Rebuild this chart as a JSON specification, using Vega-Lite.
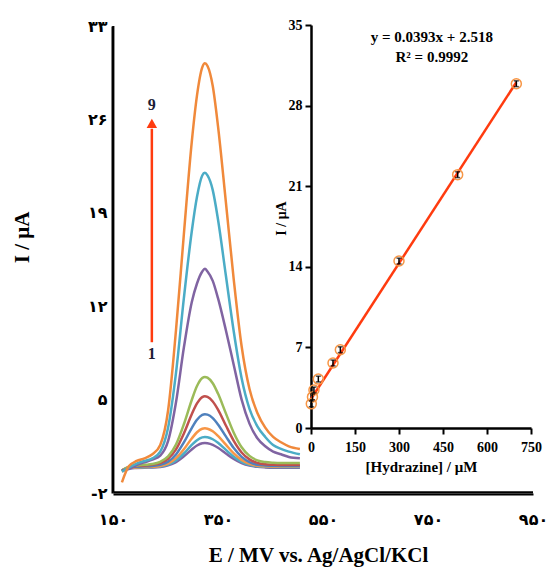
{
  "$schema": "https://vega.github.io/schema/vega-lite/v6.json",
  "width": 420,
  "height": 467,
  "autosize": {"type": "none"},
  "padding": {"left": 113, "top": 26, "right": 20, "bottom": 74},
  "background": "white",
  "config": {"view": {"stroke": null}, "axis": {"grid": false, "domain": true, "domainColor": "black", "domainWidth": 2}},
  "datasets": {
    "cv": [
      {"curve":"1","E":167,"I":-0.3},{"curve":"1","E":180,"I":-0.15},{"curve":"1","E":195,"I":-0.12},{"curve":"1","E":210,"I":-0.1},{"curve":"1","E":225,"I":-0.09},{"curve":"1","E":240,"I":-0.05},{"curve":"1","E":255,"I":0.07},{"curve":"1","E":270,"I":0.32},{"curve":"1","E":285,"I":0.75},{"curve":"1","E":300,"I":1.26},{"curve":"1","E":310,"I":1.56},{"curve":"1","E":320,"I":1.73},{"curve":"1","E":325,"I":1.75},{"curve":"1","E":330,"I":1.73},{"curve":"1","E":340,"I":1.61},{"curve":"1","E":350,"I":1.39},{"curve":"1","E":365,"I":0.96},{"curve":"1","E":380,"I":0.55},{"curve":"1","E":395,"I":0.24},{"curve":"1","E":410,"I":0.05},{"curve":"1","E":425,"I":-0.04},{"curve":"1","E":440,"I":-0.08},{"curve":"1","E":455,"I":-0.1},{"curve":"1","E":470,"I":-0.1},{"curve":"1","E":485,"I":-0.1},{"curve":"1","E":506,"I":-0.1},
      {"curve":"2","E":167,"I":-0.35},{"curve":"2","E":180,"I":-0.15},{"curve":"2","E":195,"I":-0.1},{"curve":"2","E":210,"I":-0.08},{"curve":"2","E":225,"I":-0.06},{"curve":"2","E":240,"I":-0.01},{"curve":"2","E":255,"I":0.13},{"curve":"2","E":270,"I":0.44},{"curve":"2","E":285,"I":0.96},{"curve":"2","E":300,"I":1.6},{"curve":"2","E":310,"I":1.96},{"curve":"2","E":320,"I":2.17},{"curve":"2","E":325,"I":2.2},{"curve":"2","E":330,"I":2.18},{"curve":"2","E":340,"I":2.03},{"curve":"2","E":350,"I":1.76},{"curve":"2","E":365,"I":1.23},{"curve":"2","E":380,"I":0.72},{"curve":"2","E":395,"I":0.34},{"curve":"2","E":410,"I":0.11},{"curve":"2","E":425,"I":0.0},{"curve":"2","E":440,"I":-0.03},{"curve":"2","E":455,"I":-0.05},{"curve":"2","E":470,"I":-0.05},{"curve":"2","E":485,"I":-0.05},{"curve":"2","E":506,"I":-0.05},
      {"curve":"3","E":167,"I":-0.4},{"curve":"3","E":180,"I":-0.15},{"curve":"3","E":195,"I":-0.08},{"curve":"3","E":210,"I":-0.05},{"curve":"3","E":225,"I":-0.03},{"curve":"3","E":240,"I":0.03},{"curve":"3","E":255,"I":0.21},{"curve":"3","E":270,"I":0.61},{"curve":"3","E":285,"I":1.28},{"curve":"3","E":300,"I":2.09},{"curve":"3","E":310,"I":2.55},{"curve":"3","E":320,"I":2.82},{"curve":"3","E":325,"I":2.85},{"curve":"3","E":330,"I":2.82},{"curve":"3","E":340,"I":2.63},{"curve":"3","E":350,"I":2.28},{"curve":"3","E":365,"I":1.62},{"curve":"3","E":380,"I":0.97},{"curve":"3","E":395,"I":0.48},{"curve":"3","E":410,"I":0.19},{"curve":"3","E":425,"I":0.04},{"curve":"3","E":440,"I":0.0},{"curve":"3","E":455,"I":-0.02},{"curve":"3","E":470,"I":0.0},{"curve":"3","E":485,"I":0.0},{"curve":"3","E":506,"I":0.0},
      {"curve":"4","E":167,"I":-0.35},{"curve":"4","E":180,"I":-0.1},{"curve":"4","E":195,"I":-0.03},{"curve":"4","E":210,"I":0.0},{"curve":"4","E":225,"I":0.03},{"curve":"4","E":240,"I":0.11},{"curve":"4","E":255,"I":0.35},{"curve":"4","E":270,"I":0.89},{"curve":"4","E":285,"I":1.79},{"curve":"4","E":300,"I":2.87},{"curve":"4","E":310,"I":3.49},{"curve":"4","E":320,"I":3.85},{"curve":"4","E":325,"I":3.9},{"curve":"4","E":330,"I":3.87},{"curve":"4","E":340,"I":3.61},{"curve":"4","E":350,"I":3.14},{"curve":"4","E":365,"I":2.24},{"curve":"4","E":380,"I":1.37},{"curve":"4","E":395,"I":0.71},{"curve":"4","E":410,"I":0.32},{"curve":"4","E":425,"I":0.12},{"curve":"4","E":440,"I":0.07},{"curve":"4","E":455,"I":0.05},{"curve":"4","E":470,"I":0.05},{"curve":"4","E":485,"I":0.05},{"curve":"4","E":506,"I":0.05},
      {"curve":"5","E":167,"I":-0.3},{"curve":"5","E":180,"I":-0.05},{"curve":"5","E":195,"I":0.03},{"curve":"5","E":210,"I":0.06},{"curve":"5","E":225,"I":0.14},{"curve":"5","E":240,"I":0.25},{"curve":"5","E":255,"I":0.57},{"curve":"5","E":270,"I":1.27},{"curve":"5","E":285,"I":2.46},{"curve":"5","E":300,"I":3.9},{"curve":"5","E":310,"I":4.71},{"curve":"5","E":320,"I":5.19},{"curve":"5","E":325,"I":5.25},{"curve":"5","E":330,"I":5.2},{"curve":"5","E":340,"I":4.86},{"curve":"5","E":350,"I":4.25},{"curve":"5","E":365,"I":3.06},{"curve":"5","E":380,"I":1.91},{"curve":"5","E":395,"I":1.04},{"curve":"5","E":410,"I":0.52},{"curve":"5","E":425,"I":0.26},{"curve":"5","E":440,"I":0.15},{"curve":"5","E":455,"I":0.12},{"curve":"5","E":470,"I":0.1},{"curve":"5","E":485,"I":0.1},{"curve":"5","E":506,"I":0.1},
      {"curve":"6","E":167,"I":-0.3},{"curve":"6","E":180,"I":-0.05},{"curve":"6","E":195,"I":0.05},{"curve":"6","E":210,"I":0.11},{"curve":"6","E":225,"I":0.17},{"curve":"6","E":240,"I":0.34},{"curve":"6","E":255,"I":0.74},{"curve":"6","E":270,"I":1.63},{"curve":"6","E":285,"I":3.15},{"curve":"6","E":300,"I":4.97},{"curve":"6","E":310,"I":6.02},{"curve":"6","E":320,"I":6.62},{"curve":"6","E":325,"I":6.7},{"curve":"6","E":330,"I":6.64},{"curve":"6","E":340,"I":6.23},{"curve":"6","E":350,"I":5.45},{"curve":"6","E":365,"I":3.97},{"curve":"6","E":380,"I":2.52},{"curve":"6","E":395,"I":1.43},{"curve":"6","E":410,"I":0.78},{"curve":"6","E":425,"I":0.45},{"curve":"6","E":440,"I":0.32},{"curve":"6","E":455,"I":0.27},{"curve":"6","E":470,"I":0.25},{"curve":"6","E":485,"I":0.25},{"curve":"6","E":506,"I":0.25},
      {"curve":"7","E":167,"I":-0.3},{"curve":"7","E":180,"I":-0.2},{"curve":"7","E":195,"I":0.1},{"curve":"7","E":210,"I":0.3},{"curve":"7","E":225,"I":0.5},{"curve":"7","E":240,"I":0.8},{"curve":"7","E":255,"I":1.9},{"curve":"7","E":270,"I":4.8},{"curve":"7","E":285,"I":8.9},{"curve":"7","E":300,"I":12.3},{"curve":"7","E":310,"I":13.7},{"curve":"7","E":320,"I":14.6},{"curve":"7","E":325,"I":14.8},{"curve":"7","E":330,"I":14.6},{"curve":"7","E":340,"I":13.9},{"curve":"7","E":350,"I":12.6},{"curve":"7","E":365,"I":10.2},{"curve":"7","E":380,"I":7.6},{"curve":"7","E":395,"I":5.0},{"curve":"7","E":410,"I":3.2},{"curve":"7","E":425,"I":2.1},{"curve":"7","E":440,"I":1.5},{"curve":"7","E":455,"I":1.1},{"curve":"7","E":470,"I":0.9},{"curve":"7","E":485,"I":0.7},{"curve":"7","E":506,"I":0.6},
      {"curve":"8","E":167,"I":-0.4},{"curve":"8","E":180,"I":-0.1},{"curve":"8","E":195,"I":0.2},{"curve":"8","E":210,"I":0.4},{"curve":"8","E":225,"I":0.6},{"curve":"8","E":240,"I":1.1},{"curve":"8","E":255,"I":2.9},{"curve":"8","E":270,"I":7.0},{"curve":"8","E":285,"I":12.6},{"curve":"8","E":300,"I":17.6},{"curve":"8","E":310,"I":20.2},{"curve":"8","E":320,"I":21.8},{"curve":"8","E":325,"I":22.0},{"curve":"8","E":330,"I":21.8},{"curve":"8","E":340,"I":20.7},{"curve":"8","E":350,"I":18.5},{"curve":"8","E":365,"I":14.3},{"curve":"8","E":380,"I":10.1},{"curve":"8","E":395,"I":6.6},{"curve":"8","E":410,"I":4.3},{"curve":"8","E":425,"I":3.0},{"curve":"8","E":440,"I":2.2},{"curve":"8","E":455,"I":1.6},{"curve":"8","E":470,"I":1.3},{"curve":"8","E":485,"I":1.1},{"curve":"8","E":506,"I":0.9},
      {"curve":"9","E":167,"I":-1.2},{"curve":"9","E":180,"I":0.0},{"curve":"9","E":195,"I":0.4},{"curve":"9","E":210,"I":0.6},{"curve":"9","E":225,"I":0.9},{"curve":"9","E":240,"I":1.6},{"curve":"9","E":255,"I":4.2},{"curve":"9","E":270,"I":10.2},{"curve":"9","E":285,"I":17.4},{"curve":"9","E":300,"I":24.3},{"curve":"9","E":310,"I":27.8},{"curve":"9","E":320,"I":29.9},{"curve":"9","E":325,"I":30.2},{"curve":"9","E":330,"I":30.0},{"curve":"9","E":340,"I":28.5},{"curve":"9","E":350,"I":25.5},{"curve":"9","E":365,"I":19.8},{"curve":"9","E":380,"I":14.0},{"curve":"9","E":395,"I":9.0},{"curve":"9","E":410,"I":5.8},{"curve":"9","E":425,"I":4.0},{"curve":"9","E":440,"I":2.9},{"curve":"9","E":455,"I":2.2},{"curve":"9","E":470,"I":1.8},{"curve":"9","E":485,"I":1.5},{"curve":"9","E":506,"I":1.3}
    ],
    "pts": [
      {"c":1,"I":2.1,"err":0.25},{"c":5,"I":2.7,"err":0.25},{"c":10,"I":3.3,"err":0.25},{"c":25,"I":4.25,"err":0.25},{"c":75,"I":5.65,"err":0.25},{"c":100,"I":6.8,"err":0.25},{"c":300,"I":14.5,"err":0.25},{"c":500,"I":22.0,"err":0.25},{"c":700,"I":29.9,"err":0.25}
    ],
    "fit": [{"c":0,"I":2.518},{"c":700,"I":30.028}]
  },
  "layer": [
    {
      "data": {"name": "cv"},
      "mark": {"type": "line", "strokeWidth": 2.5, "interpolate": "monotone"},
      "encoding": {
        "x": {"field": "E", "type": "quantitative",
          "scale": {"domain": [150, 950], "nice": false, "zero": false},
          "axis": {"orient": "bottom", "offset": 1, "values": [150, 350, 550, 750, 950], "domain": true,
            "labelExpr": "datum.value==150?'۱۵۰':datum.value==350?'۳۵۰':datum.value==550?'۵۵۰':datum.value==750?'۷۵۰':'۹۵۰'",
            "labelFont": "DejaVu Sans", "labelFontWeight": "bold", "labelFontSize": 16, "labelColor": "black",
            "labelPadding": 17, "labelFlush": false, "labelOverlap": false, "ticks": true, "tickSize": 0,
            "domainColor": "black", "domainWidth": 2, "domainOpacity": 1,
            "title": "E / MV vs. Ag/AgCl/KCl", "titleFont": "Liberation Serif", "titleFontSize": 21,
            "titleFontWeight": "bold", "titleColor": "black", "titleX": 205, "titleY": 61, "titleBaseline": "middle"}},
        "y": {"field": "I", "type": "quantitative",
          "scale": {"domain": [-2, 33], "nice": false, "zero": false},
          "axis": {"orient": "left", "offset": 1, "values": [-2, 5, 12, 19, 26, 33], "domain": true,
            "labelExpr": "datum.value==33?'۳۳':datum.value==26?'۲۶':datum.value==19?'۱۹':datum.value==12?'۱۲':datum.value==5?'۵':'-۲'",
            "labelFont": "DejaVu Sans", "labelFontWeight": "bold", "labelFontSize": 16, "labelColor": "black",
            "labelPadding": 5, "labelFlush": false, "labelOverlap": false, "ticks": true, "tickSize": 0,
            "domainColor": "black", "domainWidth": 2, "domainOpacity": 1,
            "title": "I / μA", "titleFont": "Liberation Serif", "titleFontSize": 21, "titleFontWeight": "bold",
            "titleColor": "black", "titleX": -90, "titleY": 211, "titleBaseline": "middle"}},
        "color": {"field": "curve", "type": "nominal",
          "scale": {"domain": ["1","2","3","4","5","6","7","8","9"],
            "range": ["#8064A2","#4BACC6","#F79646","#4F81BD","#C0504D","#9BBB59","#8064A2","#4BACC6","#F0893B"]},
          "legend": null}
      }
    },
    {
      "layer": [
        {
          "data": {"values": [{}]},
          "mark": {"type": "rule", "color": "#000000", "strokeWidth": 2.2, "opacity": 1},
          "encoding": {
            "x": {"datum": 150.6, "type": "quantitative", "scale": {"domain": [150, 950], "nice": false, "zero": false}, "axis": null},
            "x2": {"datum": 950},
            "y": {"datum": -1.96, "type": "quantitative", "scale": {"domain": [-2, 33], "nice": false, "zero": false}, "axis": null}}
        },
        {
          "data": {"values": [{}]},
          "mark": {"type": "rule", "color": "#000000", "strokeWidth": 2.2, "opacity": 1},
          "encoding": {
            "x": {"datum": 150.6, "type": "quantitative", "axis": null},
            "y": {"datum": -1.96, "type": "quantitative", "axis": null},
            "y2": {"datum": 33}}
        },
        {
          "data": {"values": [{}]},
          "mark": {"type": "rule", "color": "#FF3B0F", "strokeWidth": 2.5},
          "encoding": {
            "x": {"datum": 224, "type": "quantitative", "axis": null},
            "y": {"datum": 9.3, "type": "quantitative", "axis": null},
            "y2": {"datum": 25.3}}
        },
        {
          "data": {"values": [{}]},
          "mark": {"type": "point", "shape": "triangle-up", "filled": true, "color": "#FF3B0F", "size": 110, "opacity": 1},
          "encoding": {"x": {"datum": 224, "type": "quantitative", "axis": null}, "y": {"datum": 25.7, "type": "quantitative", "axis": null}}
        },
        {
          "data": {"values": [{"t": "9"}]},
          "mark": {"type": "text", "font": "Liberation Serif", "fontWeight": "bold", "fontSize": 16, "color": "#1c1c36", "baseline": "middle"},
          "encoding": {"x": {"datum": 224, "type": "quantitative", "axis": null}, "y": {"datum": 27.1, "type": "quantitative", "axis": null}, "text": {"field": "t"}}
        },
        {
          "data": {"values": [{"t": "1"}]},
          "mark": {"type": "text", "font": "Liberation Serif", "fontWeight": "bold", "fontSize": 16, "color": "#1c1c36", "baseline": "middle"},
          "encoding": {"x": {"datum": 224, "type": "quantitative", "axis": null}, "y": {"datum": 8.4, "type": "quantitative", "axis": null}, "text": {"field": "t"}}
        }
      ]
    },
    {
      "layer": [
        {
          "data": {"name": "fit"},
          "mark": {"type": "line", "color": "#FF3B0F", "strokeWidth": 2.5},
          "encoding": {
            "x": {"field": "c", "type": "quantitative",
              "scale": {"domain": [0, 750], "range": [198, 418], "nice": false, "zero": false},
              "axis": {"orient": "bottom", "offset": -65, "values": [0, 150, 300, 450, 600, 750],
                "domainColor": "black", "domainWidth": 2.5, "tickColor": "black", "tickWidth": 2, "tickSize": 6,
                "labelFont": "Liberation Serif", "labelFontWeight": "bold", "labelFontSize": 14, "labelColor": "black",
                "labelPadding": 6, "labelFlush": false, "labelOverlap": false,
                "title": "[Hydrazine]  / μM", "titleFont": "Liberation Serif", "titleFontWeight": "bold",
                "titleFontSize": 15, "titleColor": "black", "titlePadding": 5}},
            "y": {"field": "I", "type": "quantitative",
              "scale": {"domain": [0, 35], "range": [402, -1], "nice": false, "zero": false},
              "axis": {"orient": "left", "offset": -198, "values": [0, 7, 14, 21, 28, 35],
                "domainColor": "black", "domainWidth": 2.5, "tickColor": "black", "tickWidth": 2, "tickSize": 6,
                "labelFont": "Liberation Serif", "labelFontWeight": "bold", "labelFontSize": 14, "labelColor": "black",
                "labelPadding": 3, "labelFlush": false, "labelOverlap": false,
                "title": "I / μA", "titleFont": "Liberation Serif", "titleFontWeight": "bold", "titleFontSize": 14,
                "titleColor": "black", "titleX": -30, "titleY": 192, "titleBaseline": "middle"}}
          }
        },
        {
          "data": {"name": "pts"},
          "mark": {"type": "point", "shape": "circle", "filled": false, "stroke": "#F79646", "strokeWidth": 1.5, "size": 100, "opacity": 1},
          "encoding": {"x": {"field": "c", "type": "quantitative"}, "y": {"field": "I", "type": "quantitative"}}
        },
        {
          "data": {"name": "pts"},
          "mark": {"type": "errorbar", "ticks": true, "color": "black", "thickness": 1.5},
          "encoding": {"x": {"field": "c", "type": "quantitative", "title": "[Hydrazine]  / μM"}, "y": {"field": "I", "type": "quantitative", "title": "I / μA"}, "yError": {"field": "err"}}
        },
        {
          "data": {"values": [{"t": "y = 0.0393x + 2.518"}]},
          "mark": {"type": "text", "font": "Liberation Serif", "fontWeight": "bold", "fontSize": 15, "color": "black", "baseline": "middle"},
          "encoding": {"x": {"datum": 412, "type": "quantitative"}, "y": {"datum": 34.0, "type": "quantitative"}, "text": {"field": "t"}}
        },
        {
          "data": {"values": [{"t": "R² = 0.9992"}]},
          "mark": {"type": "text", "font": "Liberation Serif", "fontWeight": "bold", "fontSize": 15, "color": "black", "baseline": "middle"},
          "encoding": {"x": {"datum": 412, "type": "quantitative"}, "y": {"datum": 32.2, "type": "quantitative"}, "text": {"field": "t"}}
        }
      ]
    }
  ],
  "resolve": {"scale": {"x": "independent", "y": "independent"}}
}
